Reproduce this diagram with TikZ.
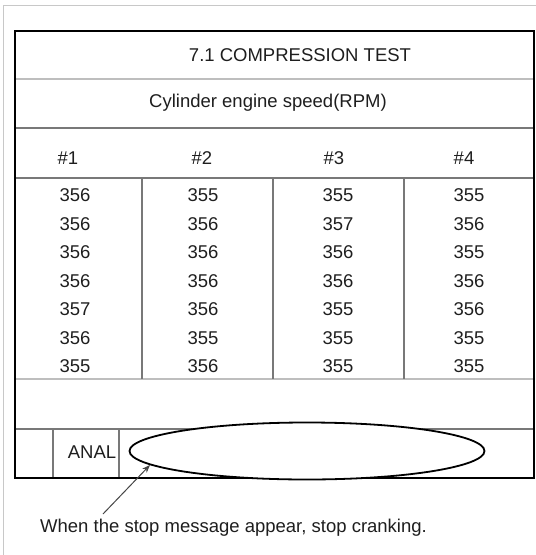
\documentclass[tikz,border=0pt]{standalone}
\usepackage{fontspec}
\setmainfont{Liberation Sans}
\usetikzlibrary{arrows.meta}
\usetikzlibrary{shapes.geometric}
\definecolor{rahmen}{RGB}{200,200,200}
\definecolor{linie}{RGB}{120,120,120}
\definecolor{trenner}{RGB}{190,190,190}
\definecolor{schrift}{RGB}{30,30,30}
\definecolor{pfeil}{RGB}{70,70,70}

\begin{document}
\begin{tikzpicture}[x=1pt, y=-1pt, every node/.style={text=schrift, font=\fontsize{18.5}{20}\selectfont, inner sep=0pt}]

    \useasboundingbox (0,0) rectangle (536,555);

    % aeusserer Rahmen
    \draw[rahmen, line width=1.2pt] (3.5,560) -- (3.5,5.5) -- (540,5.5);

    % Tabelle
    \draw[trenner, line width=2.5pt] (15,79) -- (534,79);
    \draw[trenner, line width=2.5pt] (15,379) -- (534,379);
    \foreach \y in {128,178,429}{
        \draw[linie, line width=1.2pt] (15,\y) -- (534,\y);
    }
    \foreach \x in {142,273,404}{
        \draw[linie, line width=1.2pt] (\x,178) -- (\x,379);
    }
    \foreach \x in {53,119}{
        \draw[linie, line width=1.2pt] (\x,429) -- (\x,478);
    }
    \draw[black, line width=2.5pt] (15,31) rectangle (534,478);

    \node (titel) at (300,55) {7.1 COMPRESSION TEST};
    \node (kopf) at (268,103) {Cylinder engine speed(RPM)};

    \foreach \n/\x in {1/68,2/202,3/334,4/464}{
        \node (zyl\n) at (\x,158) {\#\n};
    }

    \foreach \a/\b/\c/\d [count=\r] in {356/355/355/355, 356/356/357/356, 356/356/356/355, 356/356/356/356, 357/356/355/356, 356/355/355/355, 355/356/355/355}{
        \node (w\r-1) at (75, 167+28.5*\r) {\a};
        \node (w\r-2) at (203,167+28.5*\r) {\b};
        \node (w\r-3) at (338,167+28.5*\r) {\c};
        \node (w\r-4) at (469,167+28.5*\r) {\d};
    }

    \node (anal) at (92,452) {ANAL};
    \node[draw=black, line width=1.8pt, ellipse, minimum width=355pt, minimum height=57pt, fill=white] (oval) at (307,451) {};

    \node[anchor=west] (hinweis) at (40,528) {When the stop message appear, stop cranking.};
    \coordinate (pfeilfuss) at (103,514);
    \coordinate (pfeilspitze) at (150,465);
    \draw[pfeil, line width=1pt, -{Stealth[length=8pt, width=6pt]}] (pfeilfuss) -- (pfeilspitze);

\end{tikzpicture}
\end{document}
